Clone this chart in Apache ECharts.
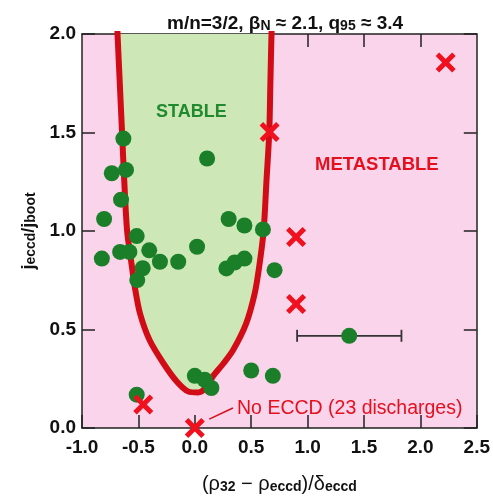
<!DOCTYPE html>
<html>
<head>
<meta charset="utf-8">
<script src="https://cdn.jsdelivr.net/npm/echarts@6/dist/echarts.min.js"></script>
<style>
html,body{margin:0;padding:0;background:#fff;}
#c{width:493px;height:499px;}
</style>
</head>
<body>
<div id="c"></div>
<script>
// ---------- data ----------
var xTicks = [-1.0, -0.5, 0.0, 0.5, 1.0, 1.5, 2.0, 2.5];
var yTicks = [0.0, 0.5, 1.0, 1.5, 2.0];

// stability boundary (red curve); ends continue just past the top frame
var boundaryX = [-0.69, -0.685, -0.665, -0.645, -0.625, -0.60, -0.565, -0.53, -0.485, -0.40, -0.28, -0.16, -0.06, 0.03, 0.09, 0.16, 0.25, 0.34, 0.455, 0.53, 0.57, 0.61, 0.635, 0.66, 0.67, 0.68, 0.685];
var boundaryY = [2.08, 2.0, 1.75, 1.5, 1.25, 1.0, 0.85, 0.71, 0.58, 0.445, 0.33, 0.236, 0.186, 0.18, 0.20, 0.262, 0.325, 0.396, 0.53, 0.68, 0.815, 1.0, 1.25, 1.5, 1.75, 2.0, 2.08];

// discharges with ECCD: stable (green circles)
var stableX = [-0.633, -0.736, -0.61, -0.654, -0.804, -0.824, -0.662, -0.58, -0.515, -0.462, -0.51, -0.404, -0.309, -0.147, 0.02, 0.109, 0.30, 0.44, 0.604, 0.28, 0.353, 0.44, 0.707, 1.369, 0.50, 0.692, 0.0, 0.088, 0.147, -0.515];
var stableY = [1.469, 1.293, 1.31, 1.159, 1.061, 0.86, 0.894, 0.894, 0.974, 0.811, 0.751, 0.902, 0.844, 0.844, 0.92, 1.368, 1.061, 1.028, 1.008, 0.81, 0.84, 0.86, 0.801, 0.468, 0.292, 0.265, 0.265, 0.245, 0.203, 0.169];

// discharges with tearing mode (red crosses)
var unstableX = [2.224, 0.663, 0.898, 0.898, -0.457, 0.0];
var unstableY = [1.855, 1.503, 0.969, 0.63, 0.119, 0.0];

// horizontal error bar: [x, y, xLow, xHigh]
var errorBar = [1.369, 0.468, 0.907, 1.832];

// annotations
var stableLabelPos = [-0.03, 1.605];
var metaLabelPos = [1.614, 1.335];
var noEccdLabelPos = [0.37, 0.096];
var arrowFrom = [0.338, 0.102];
var arrowTo = [0.128, 0.045];

// ---------- chart ----------
var FONT = '"Liberation Sans", Arial, Helvetica, sans-serif';
var RED = '#f0101e';
var CURVE = '#d20c16';
var GREEN = '#1a7f28';

var chart = echarts.init(document.getElementById('c'), null, {renderer: 'canvas'});

var axisCommon = {
  type: 'value',
  splitLine: {show: false},
  axisLine: {show: true, onZero: false, lineStyle: {color: '#222', width: 1.5}},
  axisTick: {show: true, inside: true, length: 13, lineStyle: {color: '#222', width: 1.5}}
};

var xAxisBottom = Object.assign({}, axisCommon, {
  position: 'bottom', min: xTicks[0], max: xTicks[xTicks.length - 1], interval: 0.5,
  axisLabel: {show: true, margin: 10, color: '#111', fontFamily: FONT, fontWeight: 'bold', fontSize: 19,
    formatter: function (v) { return v.toFixed(1); }},
  name: '{b|(ρ}{s|32}{b| − ρ}{s|eccd}{b|)/δ}{s|eccd}',
  nameLocation: 'middle', nameGap: 42,
  nameTextStyle: {
    rich: {
      b: {fontFamily: FONT, fontSize: 20, color: '#111', lineHeight: 24, verticalAlign: 'bottom'},
      s: {fontFamily: FONT, fontSize: 14, fontWeight: 'bold', color: '#111', lineHeight: 14, padding: [14, 0, 0, 0], verticalAlign: 'bottom'}
    }
  }
});
var xAxisTop = Object.assign({}, axisCommon, {
  position: 'top', min: xTicks[0], max: xTicks[xTicks.length - 1], interval: 0.5,
  axisLabel: {show: false},
  axisTick: {show: true, inside: true, length: 13, lineStyle: {color: '#222', width: 1.5},
    customValues: [-0.5, 0.5, 1.0, 1.5, 2.0]}
});
var yAxisLeft = Object.assign({}, axisCommon, {
  position: 'left', min: yTicks[0], max: yTicks[yTicks.length - 1], interval: 0.5,
  axisLabel: {show: true, margin: 6, color: '#111', fontFamily: FONT, fontWeight: 'bold', fontSize: 19,
    formatter: function (v) { return v.toFixed(1); }},
  name: '{b|j}{s|eccd}{b|/j}{s|boot}',
  nameLocation: 'middle', nameGap: 44, nameRotate: 90,
  nameTextStyle: {
    rich: {
      b: {fontFamily: FONT, fontSize: 18, fontWeight: 'bold', color: '#111', lineHeight: 20, verticalAlign: 'bottom'},
      s: {fontFamily: FONT, fontSize: 14, fontWeight: 'bold', color: '#111', lineHeight: 14, padding: [10, 0, 0, 0], verticalAlign: 'bottom'}
    }
  }
});
var yAxisRight = Object.assign({}, axisCommon, {
  position: 'right', min: yTicks[0], max: yTicks[yTicks.length - 1], interval: 0.5,
  axisLabel: {show: false}
});

function zip(a, b) { return a.map(function (v, i) { return [v, b[i]]; }); }

var xCross = 'path://M0,3.5 L3.5,0 L10,6.5 L16.5,0 L20,3.5 L13.5,10 L20,16.5 L16.5,20 L10,13.5 L3.5,20 L0,16.5 L6.5,10 Z';

var option = {
  backgroundColor: '#ffffff',
  animation: false,
  title: {
    text: '{a|m/n=3/2, β}{s|N}{a| ≈ 2.1, q}{s|95}{a| ≈ 3.4}',
    left: 162, top: 6,
    textStyle: {
      rich: {
        a: {fontFamily: FONT, fontSize: 19, fontWeight: 'bold', color: '#111', lineHeight: 22, verticalAlign: 'bottom'},
        s: {fontFamily: FONT, fontSize: 14, fontWeight: 'bold', color: '#111', lineHeight: 14, padding: [11, 0, 0, 0], verticalAlign: 'bottom'}
      }
    }
  },
  grid: {left: 82, right: 15, top: 34, bottom: 67, show: true, backgroundColor: '#f9d4eb', borderWidth: 0},
  xAxis: [xAxisBottom, xAxisTop],
  yAxis: [yAxisLeft, yAxisRight],
  series: [
    {
      type: 'custom', name: 'stableRegion', z: 1, silent: true, clip: true,
      coordinateSystem: 'cartesian2d', xAxisIndex: 0, yAxisIndex: 0,
      data: [[0, 1]],
      renderItem: function (params, api) {
        var pts = boundaryX.map(function (x, i) { return api.coord([x, boundaryY[i]]); });
        return {type: 'polygon', shape: {points: pts, smooth: 0.25}, style: {fill: '#cde8b6'}};
      }
    },
    {
      type: 'line', name: 'boundary', z: 2, silent: true, smooth: 0.3, clip: true,
      showSymbol: false, symbol: 'none',
      lineStyle: {color: CURVE, width: 6, cap: 'round', join: 'round'},
      data: zip(boundaryX, boundaryY)
    },
    {
      type: 'custom', name: 'errorBar', z: 3, silent: true,
      coordinateSystem: 'cartesian2d', xAxisIndex: 0, yAxisIndex: 0,
      data: [errorBar],
      renderItem: function (params, api) {
        var y = api.value(1);
        var lo = api.coord([api.value(2), y]);
        var hi = api.coord([api.value(3), y]);
        var ls = {stroke: '#333', lineWidth: 1.8};
        return {type: 'group', children: [
          {type: 'line', shape: {x1: lo[0], y1: lo[1], x2: hi[0], y2: hi[1]}, style: ls},
          {type: 'line', shape: {x1: lo[0], y1: lo[1] - 6, x2: lo[0], y2: lo[1] + 6}, style: ls},
          {type: 'line', shape: {x1: hi[0], y1: hi[1] - 6, x2: hi[0], y2: hi[1] + 6}, style: ls}
        ]};
      }
    },
    {
      type: 'scatter', name: 'stable', z: 4, silent: true,
      symbol: 'circle', symbolSize: 16,
      itemStyle: {color: GREEN, opacity: 1},
      data: zip(stableX, stableY)
    },
    {
      type: 'scatter', name: 'tearing', z: 5, silent: true, clip: false,
      symbol: xCross, symbolSize: 20,
      itemStyle: {color: RED, opacity: 1},
      data: zip(unstableX, unstableY),
      markLine: {
        silent: true, symbol: ['none', 'arrow'], symbolSize: [0, 9],
        lineStyle: {color: '#d8101c', width: 1.6, type: 'solid', opacity: 1},
        label: {show: false},
        data: [[{coord: arrowFrom}, {coord: arrowTo}]]
      }
    },
    {
      type: 'scatter', name: 'labels', z: 6, silent: true,
      symbolSize: 1, itemStyle: {color: 'rgba(0,0,0,0)', opacity: 1},
      data: [
        {value: stableLabelPos, label: {show: true, position: 'inside', formatter: 'STABLE',
          fontFamily: FONT, fontWeight: 'bold', fontSize: 18, color: '#218a2e'}},
        {value: metaLabelPos, label: {show: true, position: 'inside', formatter: 'METASTABLE',
          fontFamily: FONT, fontWeight: 'bold', fontSize: 18.5, color: '#e4101e'}},
        {value: noEccdLabelPos, label: {show: true, position: 'right', distance: 0, formatter: 'No ECCD (23 discharges)',
          fontFamily: FONT, fontWeight: 'normal', fontSize: 19.5, color: '#e4101e'}}
      ]
    }
  ]
};
chart.setOption(option);
</script>
</body>
</html>
